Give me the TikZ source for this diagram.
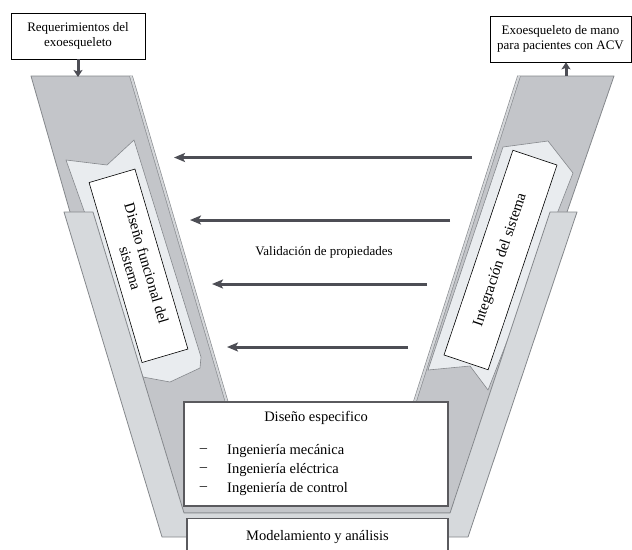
\documentclass[tikz,border=0pt]{standalone}
\usepackage{fontspec}
\setmainfont{Liberation Serif}
\usetikzlibrary{arrows.meta}
\definecolor{darkband}{HTML}{C3C5C9}
\definecolor{lightband}{HTML}{D6D9DC}
\definecolor{palepanel}{HTML}{E9ECEF}
\definecolor{edgecol}{HTML}{85888C}
\definecolor{bandhi}{HTML}{D3D5D8}
\definecolor{arrowcol}{HTML}{4D4E55}
\definecolor{boxedge}{HTML}{5A5A5E}
\begin{document}
\begin{tikzpicture}[x=1pt,y=-1pt,
  bandstyle/.style={draw=edgecol,line width=0.8pt,line join=round},
  toptext/.style={draw=black,line width=0.6pt,fill=white,inner sep=0pt,align=center,font=\fontsize{13}{15}\selectfont},
  slantbox/.style={draw=black,line width=0.6pt,fill=white,inner sep=0pt,align=center,font=\fontsize{15}{17}\selectfont},
  bigbox/.style={draw=boxedge,line width=1.2pt,fill=white,inner sep=0pt},
  boxtext/.style={inner sep=0pt,font=\fontsize{14.5}{17}\selectfont},
  harrow/.style={draw=arrowcol,line width=3pt,-{Stealth[length=11pt,width=9pt,inset=2.5pt]}},
  varrow/.style={draw=arrowcol,line width=3pt,-{Stealth[length=7pt,width=9pt,inset=1.5pt]}}
]
\clip (0,0) rectangle (632,549);
\fill[white] (0,0) rectangle (632,549);

% dark V band
\path[bandstyle,fill=darkband] (31,76) -- (131,76) -- (232,420) -- (409,420) -- (519,76) -- (614,76)
  -- (567,212) -- (470,513) -- (165,513) -- (70,212) -- cycle;
\draw[edgecol,line width=0.6pt,double=bandhi,double distance=2.2pt] (131,76) -- (232,420);
\draw[edgecol,line width=0.6pt,double=bandhi,double distance=2.2pt] (519,76) -- (409,420);

% pale panels
\path[draw=edgecol,line width=0.6pt,fill=palepanel,line join=round]
  (66,160) -- (107,165) -- (134,140) -- (201,357) -- (200,368) -- (170,382) -- (143,377) -- cycle;
\path[draw=edgecol,line width=0.6pt,fill=palepanel,line join=round]
  (503,147) -- (548,141) -- (573,173) -- (488,390) -- (470,366) -- (428,370) -- cycle;

% light U band
\path[bandstyle,fill=lightband] (64,212) -- (162,537) -- (468,537) -- (577,212) -- (550,212)
  -- (450,513) -- (184,513) -- (93,212) -- cycle;

% slanted text boxes
\node[slantbox,rotate=-73.6,minimum width=187.6pt,minimum height=47.8pt] (func) at (138.5,265.8)
  {Diseño funcional del\\sistema};
\node[slantbox,rotate=71.4,minimum width=216pt,minimum height=46.5pt] (integ) at (500.5,260)
  {Integración del sistema};

% bottom boxes
\node[bigbox,minimum width=264pt,minimum height=104pt] (spec) at (316,454) {};
\node[boxtext] (spect) at (316,418) {Diseño especifico};
\node[boxtext] (d1) at (203.5,451) {\textendash};
\node[boxtext] (d2) at (203.5,470) {\textendash};
\node[boxtext] (d3) at (203.5,489) {\textendash};
\node[boxtext,anchor=west] (i1) at (227,451) {Ingeniería mecánica};
\node[boxtext,anchor=west] (i2) at (227,470) {Ingeniería eléctrica};
\node[boxtext,anchor=west] (i3) at (227,489) {Ingeniería de control};

\node[bigbox,minimum width=261pt,minimum height=50pt,anchor=north] (model) at (317.5,518) {};
\node[boxtext] (modelt) at (317.5,537) {Modelamiento y análisis};

% validation label and arrows
\node[inner sep=0pt,font=\fontsize{13}{15}\selectfont] (valid) at (324,252) {Validación de propiedades};
\coordinate (a1s) at (472,157.5); \coordinate (a1e) at (174,157.5);
\coordinate (a2s) at (450,220);   \coordinate (a2e) at (190,220);
\coordinate (a3s) at (427,284);   \coordinate (a3e) at (212,284);
\coordinate (a4s) at (408,347);   \coordinate (a4e) at (227,347);
\draw[harrow] (a1s) -- (a1e);
\draw[harrow] (a2s) -- (a2e);
\draw[harrow] (a3s) -- (a3e);
\draw[harrow] (a4s) -- (a4e);

% top boxes
\node[toptext,minimum width=134pt,minimum height=46pt] (req) at (78,36)
  {Requerimientos del\\exoesqueleto};
\node[toptext,minimum width=141pt,minimum height=46pt] (exo) at (560.5,39)
  {Exoesqueleto de mano\\para pacientes con ACV};
\coordinate (lin) at (78,77);
\coordinate (lout) at (566,76);
\draw[varrow] (req.south) -- (lin);
\draw[varrow] (lout) -- (lout |- exo.south);
\end{tikzpicture}
\end{document}
